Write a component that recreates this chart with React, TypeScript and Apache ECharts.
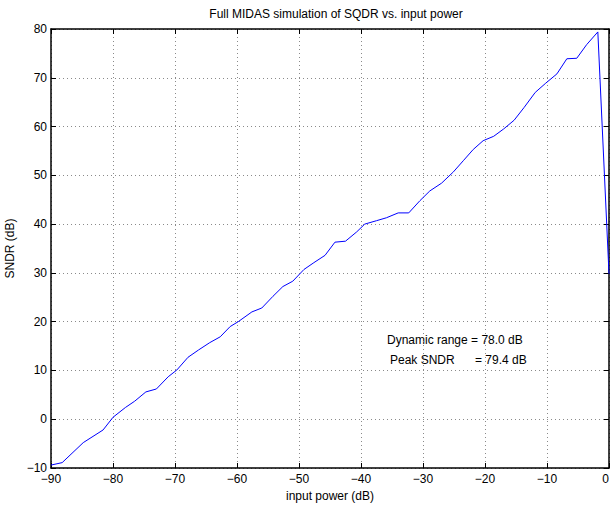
import React, { useEffect, useRef } from "react";
import * as echarts from "echarts";

const inputPower: number[] = [
  -90, -88.2, -84.8, -81.6, -80, -78, -76.5, -74.7, -73, -71.1, -69.7, -67.9, -66.2, -64.4, -62.7,
  -61.1, -59.8, -57.6, -56, -54.2, -52.6, -51, -49.2, -47.6, -45.8, -44.2, -42.5, -40.7, -39.4,
  -37.5, -35.9, -34, -32.3, -30.5, -28.9, -27, -25.1, -23.5, -21.9, -20.3, -18.6, -17, -15.3,
  -13.7, -11.9, -10.2, -8.4, -6.8, -5.2, -3.6, -1.8, 0,
];
const sndr: number[] = [
  -9.4, -8.9, -4.8, -2.2, 0.4, 2.4, 3.7, 5.6, 6.2, 8.7, 10.1, 12.7, 14.2, 15.7, 16.9,
  19.0, 20.0, 22.0, 22.8, 25.2, 27.2, 28.3, 30.7, 32.1, 33.6, 36.3, 36.5, 38.4, 40.0,
  40.7, 41.3, 42.3, 42.3, 44.8, 46.8, 48.4, 50.7, 53.0, 55.3, 57.1, 58.0, 59.5, 61.3,
  63.9, 67.0, 68.9, 70.8, 73.9, 74.0, 76.8, 79.4, 29.8,
];
const titleText = "Full MIDAS simulation of SQDR vs. input power";
const xLabel = "input power (dB)";
const yLabel = "SNDR (dB)";
const noteLine1 = "Dynamic range = 78.0 dB";
const noteLine2a = "Peak SNDR";
const noteLine2b = "= 79.4 dB";

const FONT = "'Liberation Sans', Arial, Helvetica, sans-serif";
const FS = 12;
const fmt = (v: number) => (v < 0 ? "\u2212" + Math.abs(v) : String(v));

export default function App() {
  const ref = useRef<HTMLDivElement>(null);
  useEffect(() => {
    if (!ref.current) return;
    const chart = echarts.init(ref.current, undefined, { renderer: "svg" });
    const data = inputPower.map((x, i) => [x, sndr[i]]);
    const gridLine = { show: true, lineStyle: { color: "#8a8a8a", type: [1, 3] as any, width: 1 } };
    const axisLine = { show: true, onZero: false, lineStyle: { color: "#000", width: 1.5 } };
    const tick = { show: true, inside: true, length: 5, lineStyle: { color: "#000" } };
    chart.setOption({
      animation: false,
      backgroundColor: "#fff",
      title: {
        text: titleText,
        left: 331,
        top: 3,
        textAlign: "center",
        textStyle: { fontFamily: FONT, fontSize: FS, fontWeight: "normal", color: "#000" },
      },
      grid: { left: 51, top: 29, right: 1, bottom: 38, containLabel: false, outerBoundsMode: "none" },
      xAxis: [
        {
          type: "value",
          min: -90,
          max: 0,
          interval: 10,
          position: "bottom",
          axisLine,
          axisTick: tick,
          splitLine: gridLine,
          axisLabel: {
            formatter: fmt,
            fontFamily: FONT,
            fontSize: FS,
            color: "#000",
            margin: 5,
            alignMaxLabel: "right",
          },
          name: xLabel,
          nameLocation: "middle",
          nameGap: 22,
          nameTextStyle: { fontFamily: FONT, fontSize: FS, color: "#000" },
        },
        {
          type: "value",
          min: -90,
          max: 0,
          interval: 10,
          position: "top",
          axisLine,
          axisTick: tick,
          splitLine: { show: false },
          axisLabel: { show: false },
        },
      ],
      yAxis: [
        {
          type: "value",
          min: -10,
          max: 80,
          interval: 10,
          position: "left",
          axisLine,
          axisTick: tick,
          splitLine: gridLine,
          axisLabel: { formatter: fmt, fontFamily: FONT, fontSize: FS, color: "#000", margin: 4 },
          name: yLabel,
          nameLocation: "middle",
          nameGap: 33,
          nameTextStyle: { fontFamily: FONT, fontSize: FS, color: "#000" },
        },
        {
          type: "value",
          min: -10,
          max: 80,
          interval: 10,
          position: "right",
          axisLine,
          axisTick: tick,
          splitLine: { show: false },
          axisLabel: { show: false },
        },
      ],
      graphic: [
        { type: "text", left: 387, top: 334, style: { text: noteLine1, font: `${FS}px ${FONT}`, fill: "#000" } },
        { type: "text", left: 390, top: 354, style: { text: noteLine2a, font: `${FS}px ${FONT}`, fill: "#000" } },
        { type: "text", left: 475, top: 354, style: { text: noteLine2b, font: `${FS}px ${FONT}`, fill: "#000" } },
      ],
      series: [
        {
          type: "line",
          data,
          xAxisIndex: 0,
          yAxisIndex: 0,
          showSymbol: false,
          symbol: "none",
          lineStyle: { color: "#0000ff", width: 1 },
          clip: false,
        },
      ],
    });
    return () => chart.dispose();
  }, []);
  return <div ref={ref} style={{ position: "fixed", left: 0, top: 0, width: 610, height: 506 }} />;
}
